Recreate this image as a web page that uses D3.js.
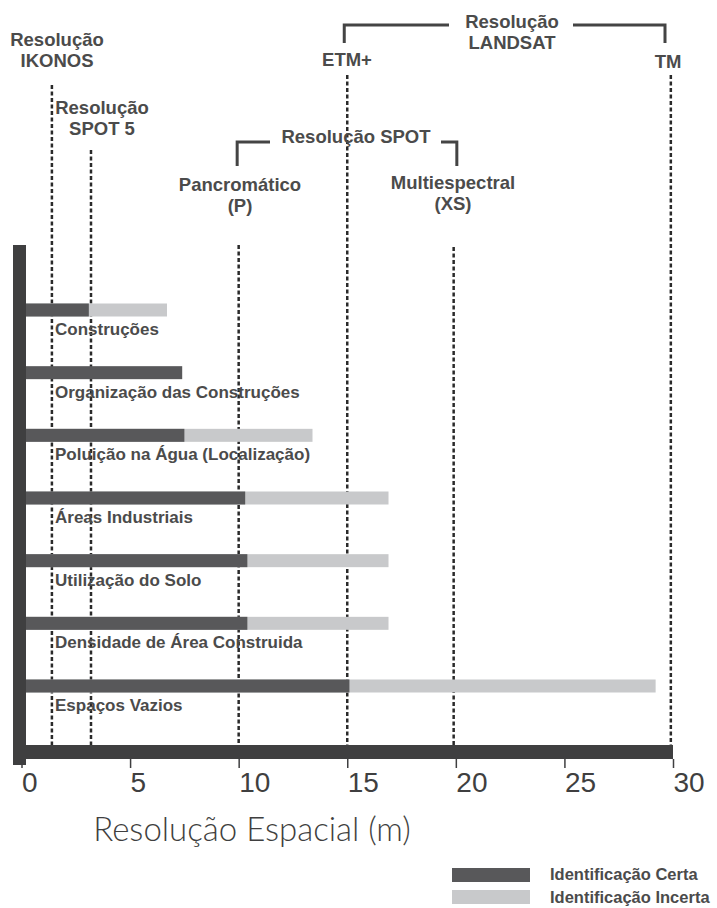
<!DOCTYPE html>
<html>
<head>
<meta charset="utf-8">
<script src="https://cdn.jsdelivr.net/npm/d3@7"></script>
<style>
	body { margin: 0; background: #fff; }
	svg { display: block; }
	.ann { font-family: "Liberation Sans", Arial, sans-serif; font-weight: bold; font-size: 18.5px; fill: #4b4b4b; }
	.cat { font-family: "Liberation Sans", Arial, sans-serif; font-weight: bold; font-size: 17px; fill: #4b4b4b; }
	.tick text { font-family: "Liberation Sans Narrow", "Liberation Sans", Arial, sans-serif; font-size: 28px; fill: #3f3f40; }
	.axis-title { font-family: Lato, "Noto Sans", sans-serif; font-weight: 300; font-size: 33px; fill: #3f3f40; }
	.legend text { font-family: "Liberation Sans", Arial, sans-serif; font-weight: bold; font-size: 16.5px; fill: #4b4b4b; }
</style>
</head>
<body>
<div id="chart"></div>
<script>
// data
const categories = [
	'Construções',
	'Organização das Construções',
	'Poluição na Água (Localização)',
	'Áreas Industriais',
	'Utilização do Solo',
	'Densidade de Área Construida',
	'Espaços Vazios'
];
const certa = [3.1, 7.4, 7.5, 10.3, 10.4, 10.4, 15.1];
const incerta = [6.7, 0, 13.4, 16.9, 16.9, 16.9, 29.2];

const sensorKeys = ['ikonos', 'spot5', 'pan', 'xs', 'etm', 'tm'];
const sensorRes = [1.4, 3.2, 10, 19.9, 15, 29.9];

const xTicks = [0, 5, 10, 15, 20, 25, 30];
const legendLabels = ['Identificação Certa', 'Identificação Incerta'];

const darkGrey = '#58585a';
const lightGrey = '#c8c9cb';
const axisGrey = '#3f3f40';

const width = 717;
const height = 908;

const $svg = d3.select('#chart').append('svg')
	.attr('width', width)
	.attr('height', height);

// scales
const scaleX = d3.scaleLinear().domain([0, 30]).range([21.5, 673]);
const scaleY = d3.scalePoint().domain(categories).range([310, 686]);
const barH = 13;
const axisTop = 745;

// where each dashed line starts
const lineTop = { ikonos: 85, spot5: 150, pan: 245, xs: 247, etm: 75, tm: 75 };

const $lines = $svg.append('g').attr('class', 'g-lines');
$lines.selectAll('line')
	.data(sensorKeys)
	.join('line')
	.attr('x1', (d, i) => scaleX(sensorRes[i]))
	.attr('x2', (d, i) => scaleX(sensorRes[i]))
	.attr('y1', d => lineTop[d])
	.attr('y2', axisTop)
	.attr('stroke', '#2a2a2a')
	.attr('stroke-width', 2.5)
	.attr('stroke-dasharray', '4,2.5');

// bars
const rows = categories.map((c, i) => ({ name: c, certa: certa[i], incerta: incerta[i] }));
const $bars = $svg.append('g').attr('class', 'g-bars');

$bars.selectAll('rect.incerta')
	.data(rows.filter(d => d.incerta > 0))
	.join('rect')
	.attr('class', 'incerta')
	.attr('x', scaleX(0))
	.attr('y', d => scaleY(d.name) - barH / 2)
	.attr('width', d => scaleX(d.incerta) - scaleX(0))
	.attr('height', barH)
	.attr('fill', lightGrey);

$bars.selectAll('rect.certa')
	.data(rows)
	.join('rect')
	.attr('class', 'certa')
	.attr('x', scaleX(0))
	.attr('y', d => scaleY(d.name) - barH / 2)
	.attr('width', d => scaleX(d.certa) - scaleX(0))
	.attr('height', barH)
	.attr('fill', darkGrey);

$bars.selectAll('text')
	.data(rows)
	.join('text')
	.attr('class', 'cat')
	.attr('x', 55)
	.attr('y', d => scaleY(d.name) + 25)
	.text(d => d.name);

// axis bars
$svg.append('rect')
	.attr('x', 13).attr('y', 245)
	.attr('width', 13).attr('height', 520)
	.attr('fill', axisGrey);
$svg.append('rect')
	.attr('x', 13).attr('y', axisTop)
	.attr('width', scaleX(30) - 13).attr('height', 14)
	.attr('fill', axisGrey);

const $axis = $svg.append('g')
	.attr('class', 'axis-x')
	.attr('transform', `translate(0, ${axisTop + 14})`)
	.call(d3.axisBottom(scaleX).tickValues(xTicks).tickSize(9).tickPadding(4).tickSizeOuter(0));
$axis.select('.domain').remove();
$axis.selectAll('.tick line').attr('stroke', axisGrey).attr('stroke-width', 1.5);
$axis.selectAll('.tick text')
	.attr('text-anchor', 'start')
	.attr('dx', 0);

$svg.append('text')
	.attr('class', 'axis-title')
	.attr('x', 252)
	.attr('y', 841)
	.attr('text-anchor', 'middle')
	.text('Resolução Espacial (m)');

// annotations
const ann = (x, y, lines) => {
	const t = $svg.append('text').attr('class', 'ann').attr('text-anchor', 'middle');
	lines.forEach((l, i) => {
		t.append('tspan').attr('x', x).attr('y', y + i * 21).text(l);
	});
};
ann(57, 46, ['Resolução', 'IKONOS']);
ann(102, 114, ['Resolução', 'SPOT 5']);
ann(240, 191, ['Pancromático', '(P)']);
ann(453, 189, ['Multiespectral', '(XS)']);
ann(356, 143, ['Resolução SPOT']);
ann(512, 28, ['Resolução', 'LANDSAT']);
ann(347, 66, ['ETM+']);
ann(668, 68, ['TM']);

// brackets
const bracket = pts => $svg.append('path')
	.attr('d', d3.line()(pts))
	.attr('fill', 'none')
	.attr('stroke', '#444')
	.attr('stroke-width', 3);
bracket([[scaleX(10) - 1.5, 166], [scaleX(10) - 1.5, 142], [270, 142]]);
bracket([[441, 142], [scaleX(20) + 1, 142], [scaleX(20) + 1, 166]]);
bracket([[scaleX(15) - 3, 43], [scaleX(15) - 3, 25], [449, 25]]);
bracket([[573, 25], [scaleX(30) - 8, 25], [scaleX(30) - 8, 43]]);

// legend
const $legend = $svg.append('g').attr('class', 'legend');
$legend.selectAll('rect')
	.data(legendLabels)
	.join('rect')
	.attr('x', 452)
	.attr('y', (d, i) => 868 + i * 22)
	.attr('width', 78)
	.attr('height', 14)
	.attr('fill', (d, i) => i ? lightGrey : darkGrey);
$legend.selectAll('text')
	.data(legendLabels)
	.join('text')
	.attr('x', 550)
	.attr('y', (d, i) => 880 + i * 23)
	.text(d => d);
</script>
</body>
</html>
